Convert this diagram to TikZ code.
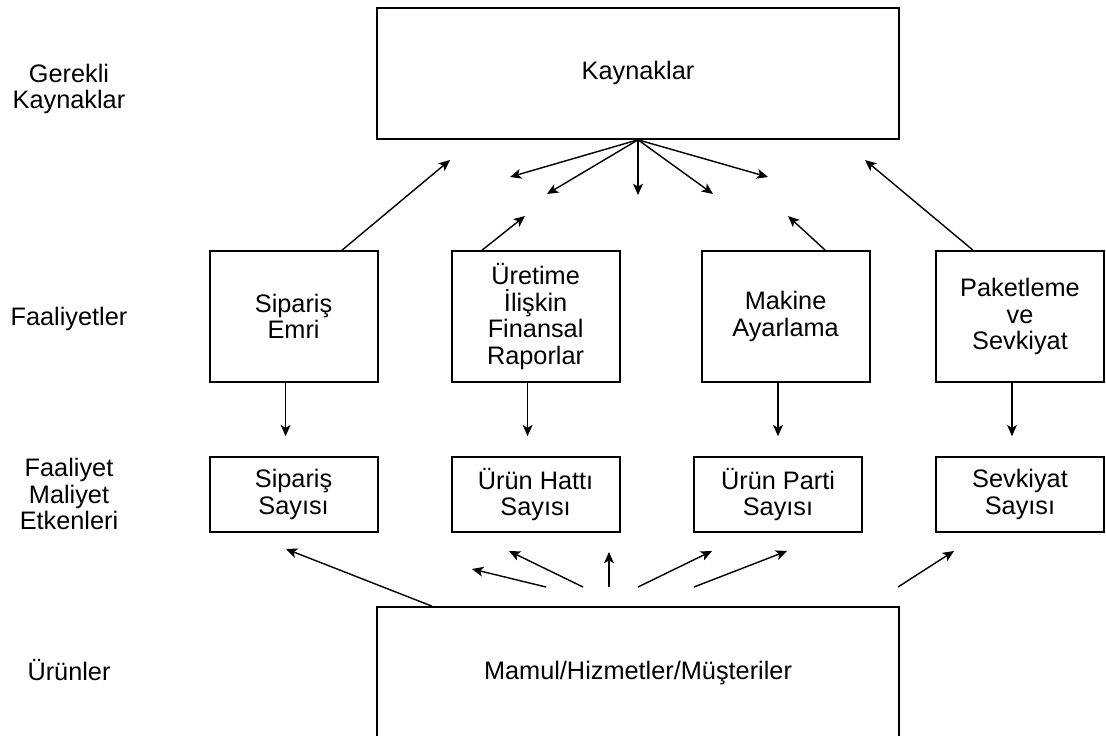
\documentclass[tikz,border=0pt]{standalone}
\usepackage{fontspec}
\setmainfont{Liberation Sans}
\usetikzlibrary{arrows.meta,positioning}

\begin{document}
\begin{tikzpicture}[
    box/.style={draw, rectangle, line width=1.3pt, minimum width=4.2cm, minimum height=3.275cm, align=center, font=\fontsize{18}{18.8}\selectfont},
    driver/.style={box, minimum height=1.875cm},
    wide/.style={box, minimum width=13.05cm},
    lbl/.style={align=center, font=\fontsize{18}{18.8}\selectfont},
    arrow/.style={-{Stealth[length=8pt,width=7pt,inset=2pt]}, line width=1pt}
]
\useasboundingbox (0,0) rectangle (27.65,18.375);

% Row labels
\node[lbl] (lres) at (1.725,16.15) {Gerekli\\Kaynaklar};
\node[lbl] (lact) at (1.725,10.4) {Faaliyetler};
\node[lbl] (ldrv) at (1.725,6.025) {Faaliyet\\Maliyet\\Etkenleri};
\node[lbl] (lprd) at (1.725,1.625) {Ürünler};

% Resources and products
\node[wide] (kaynak) at (15.95,16.54) {Kaynaklar};
\node[wide] (mamul) at (15.95,1.56) {Mamul/Hizmetler/Müşteriler};

% Activities
\node[box] (emri) at (7.34,10.46) {Sipariş\\Emri};
\node[box] (rapor) at (13.39,10.46) {Üretime\\İlişkin\\Finansal\\Raporlar};
\node[box] (makine) at (19.64,10.46) {Makine\\Ayarlama};
\node[box] (paket) at (25.5,10.46) {Paketleme\\ve\\Sevkiyat};

% Cost drivers
\node[driver, below=1.83cm of emri] (siparis) {Sipariş\\Sayısı};
\node[driver, below=1.83cm of rapor] (hat) {Ürün Hattı\\Sayısı};
\node[driver] (parti) at (19.45,6.01) {Ürün Parti\\Sayısı};
\node[driver, below=1.83cm of paket] (sevk) {Sevkiyat\\Sayısı};

% Free arrow ends
\coordinate (up1) at (11.25,14.375);
\coordinate (up2) at (13.125,12.975);
\coordinate (up3) at (19.7,12.975);
\coordinate (up4) at (21.625,14.375);
\coordinate (dn1) at (12.75,13.95);
\coordinate (dn2) at (13.675,13.525);
\coordinate (dn3) at (15.95,13.5);
\coordinate (dn4) at (17.825,13.525);
\coordinate (dn5) at (19.2,13.95);
\coordinate (pt1) at (7.15,4.65);
\coordinate (pb2) at (13.65,3.7);   \coordinate (pt2) at (11.8,4.15);
\coordinate (pb3) at (14.575,3.7);  \coordinate (pt3) at (12.725,4.6);
\coordinate (pb4) at (15.225,3.7);  \coordinate (pt4) at (15.225,4.575);
\coordinate (pb5) at (15.95,3.7);   \coordinate (pt5) at (17.8,4.6);
\coordinate (pb6) at (17.35,3.7);   \coordinate (pt6) at (19.675,4.6);
\coordinate (pb7) at (22.45,3.7);   \coordinate (pt7) at (23.85,4.6);

% Activities use resources
\draw[arrow] ([xshift=1.21cm]emri.north) -- (up1);
\draw[arrow] ([xshift=-1.34cm]rapor.north) -- (up2);
\draw[arrow] ([xshift=0.99cm]makine.north) -- (up3);
\draw[arrow] ([xshift=-1.175cm]paket.north) -- (up4);
\foreach \i in {1,...,5}
    \draw[arrow] (kaynak.south) -- (dn\i);

% Activities to drivers
\foreach \a/\b in {emri/siparis, rapor/hat, paket/sevk}
    \draw[arrow, shorten >=0.5cm] ([xshift=-0.2cm]\a.south) -- ([xshift=-0.2cm]\b.north);
\draw[arrow, shorten >=0.5cm] (makine.south -| parti.north) -- (parti.north);

% Products consume drivers
\draw[arrow] ([xshift=-5.15cm]mamul.north) -- (pt1);
\foreach \i in {2,...,7}
    \draw[arrow] (pb\i) -- (pt\i);

\end{tikzpicture}
\end{document}
